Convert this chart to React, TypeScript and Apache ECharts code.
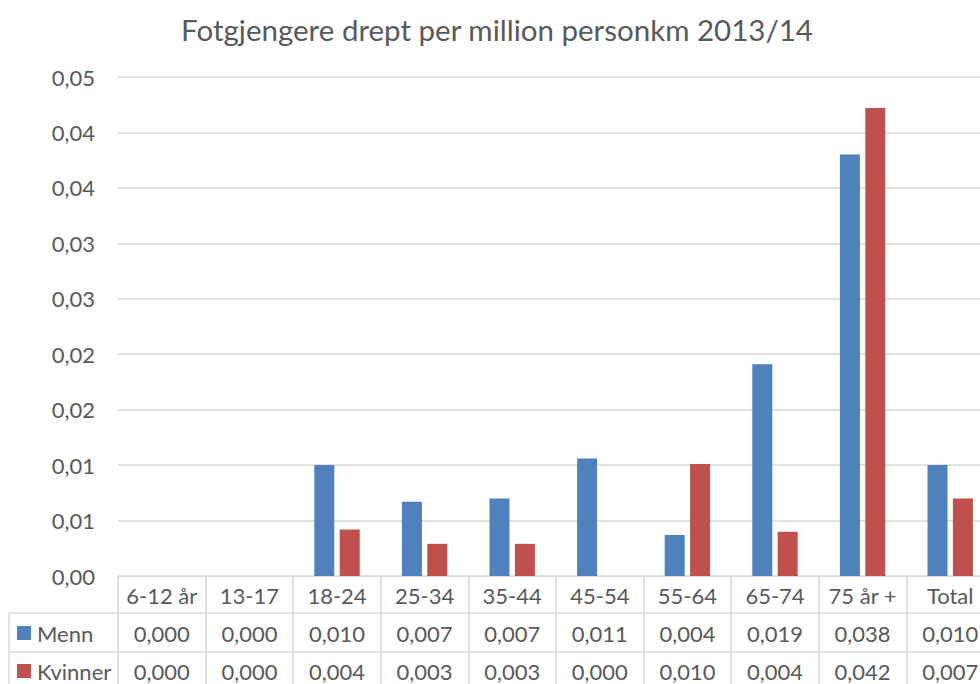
import React, { useEffect, useRef } from "react";
import * as echarts from "echarts";

const title = "Fotgjengere drept per million personkm 2013/14";
const categories = ["6-12 år", "13-17", "18-24", "25-34", "35-44", "45-54", "55-64", "65-74", "75 år +", "Total"];
const seriesNames = ["Menn", "Kvinner"];
const menn = [0, 0, 0.01, 0.0067, 0.007, 0.0106, 0.0037, 0.0191, 0.038, 0.01];
const kvinner = [0, 0, 0.0042, 0.0029, 0.0029, 0, 0.0101, 0.004, 0.0422, 0.007];
const colors = ["#4F81BD", "#C0504D"];

const FONT = "Lato";
const TEXT = "#595959";
const LINE = "#D9D9D9";

const fmtAxis = (v: number) => (Math.round(v * 100 + 1e-9) / 100).toFixed(2).replace(".", ",");
const fmtTable = (v: number) => v.toFixed(3).replace(".", ",");

export default function App() {
  const ref = useRef<HTMLDivElement>(null);
  useEffect(() => {
    document.body.style.margin = "0";
    const chart = echarts.init(ref.current!, null, { renderer: "svg" });
    const labelBase = { color: TEXT, fontFamily: FONT, fontSize: 22, interval: 0, verticalAlign: "middle" as const };
    chart.setOption({
      animation: false,
      textStyle: { fontFamily: FONT },
      title: {
        text: title,
        left: 492,
        textAlign: "center",
        top: 9,
        textStyle: { color: TEXT, fontFamily: FONT, fontSize: 29.5, fontWeight: "normal" },
      },
      grid: { left: 118, top: 77, width: 876, height: 499 },
      xAxis: [
        {
          type: "category",
          data: categories,
          position: "bottom",
          axisLine: { show: true, lineStyle: { color: LINE, width: 1 } },
          axisTick: { show: true, interval: 0, length: 110, lineStyle: { color: LINE, width: 1.5 } },
          axisLabel: { ...labelBase, margin: 19 },
          splitLine: { show: false },
        },
        {
          type: "category",
          data: categories,
          position: "bottom",
          offset: 37,
          axisLine: { show: true, lineStyle: { color: LINE, width: 1.5 } },
          axisTick: { show: false },
          axisLabel: { ...labelBase, margin: 20, formatter: (_v: string, i: number) => fmtTable(menn[i]) },
        },
        {
          type: "category",
          data: categories,
          position: "bottom",
          offset: 76,
          axisLine: { show: true, lineStyle: { color: LINE, width: 1.5 } },
          axisTick: { show: false },
          axisLabel: { ...labelBase, margin: 19, formatter: (_v: string, i: number) => fmtTable(kvinner[i]) },
        },
      ],
      yAxis: {
        type: "value",
        min: 0,
        max: 0.045,
        interval: 0.005,
        axisLine: { show: false },
        axisTick: { show: false },
        axisLabel: { color: TEXT, fontFamily: FONT, fontSize: 22, margin: 23, formatter: fmtAxis },
        splitLine: { lineStyle: { color: LINE, width: 1.5 } },
      },
      series: [
        {
          name: seriesNames[0],
          type: "bar",
          xAxisIndex: 0,
          data: menn,
          barWidth: 20,
          barGap: "27%",
          itemStyle: { color: colors[0] },
        },
        {
          name: seriesNames[1],
          type: "bar",
          xAxisIndex: 0,
          data: kvinner,
          barWidth: 20,
          barGap: "27%",
          itemStyle: { color: colors[1] },
        },
      ],
      graphic: [
        { type: "line", shape: { x1: 9, y1: 613, x2: 118, y2: 613 }, style: { stroke: LINE, lineWidth: 1.5 } },
        { type: "line", shape: { x1: 9, y1: 652, x2: 118, y2: 652 }, style: { stroke: LINE, lineWidth: 1.5 } },
        { type: "line", shape: { x1: 9, y1: 613, x2: 9, y2: 684 }, style: { stroke: LINE, lineWidth: 1.5 } },
        { type: "rect", shape: { x: 17, y: 626, width: 14, height: 14 }, style: { fill: colors[0] } },
        { type: "rect", shape: { x: 17, y: 664, width: 14, height: 14 }, style: { fill: colors[1] } },
        {
          type: "text",
          x: 37,
          y: 633,
          style: { text: seriesNames[0], fill: TEXT, font: `22px ${FONT}`, verticalAlign: "middle" },
        },
        {
          type: "text",
          x: 37,
          y: 671,
          style: { text: seriesNames[1], fill: TEXT, font: `22px ${FONT}`, verticalAlign: "middle" },
        },
      ],
    });
    return () => chart.dispose();
  }, []);
  return (
    <div style={{ width: 980, height: 684, overflow: "hidden" }}>
      <div ref={ref} style={{ width: 1000, height: 684 }} />
    </div>
  );
}
